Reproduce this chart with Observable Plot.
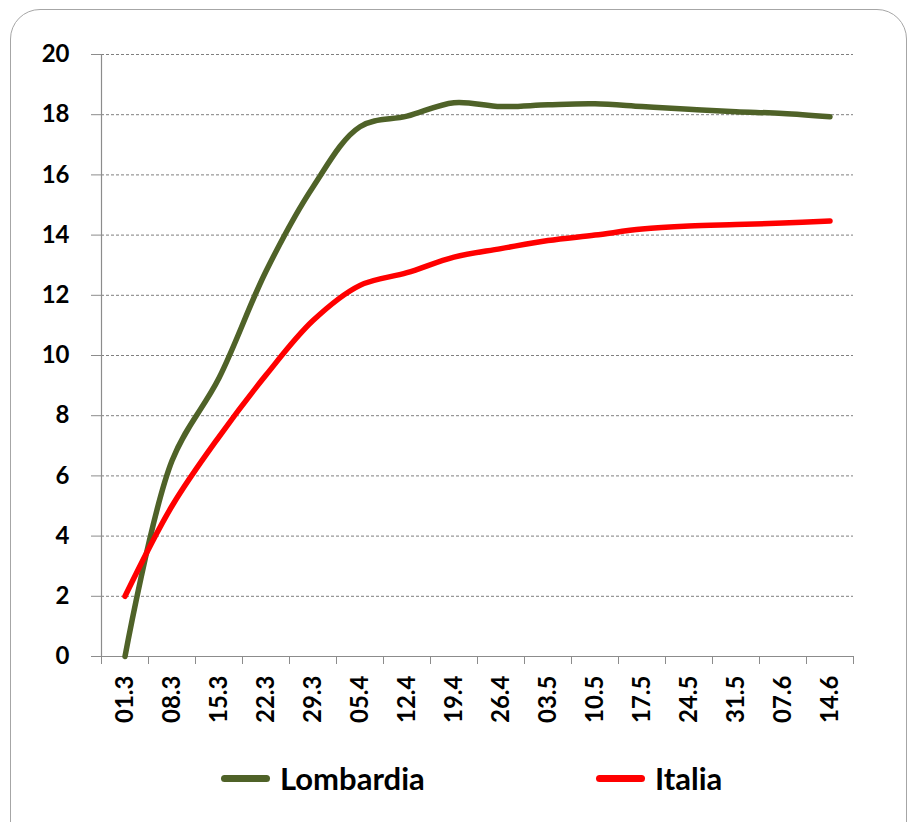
<!DOCTYPE html>
<html><head><meta charset="utf-8">
<script src="https://cdn.jsdelivr.net/npm/d3@7"></script>
<script src="https://cdn.jsdelivr.net/npm/@observablehq/plot@0.6"></script>
<style>
body{margin:0;background:#fff;}
#wrap{position:relative;width:908px;height:822px;overflow:hidden;font-family:Lato,sans-serif;background:#fff;}
#frame{position:absolute;left:10px;top:9px;width:897px;height:850px;border:1.5px solid #a6a6a6;border-radius:30px;box-sizing:border-box;}
#chart{position:absolute;left:0;top:0;}
#legend{position:absolute;top:758px;left:0;width:908px;height:40px;}
.item{position:absolute;top:0;display:flex;align-items:center;height:40px;font-weight:bold;font-size:31px;color:#000;}
.sw{width:49px;height:7px;border-radius:3.5px;margin-right:10px;}
</style></head>
<body>
<div id="wrap">
  <div id="frame"></div>
  <div id="chart"></div>
  <div id="legend"></div>
</div>
<script>
const dates = ["01.3","08.3","15.3","22.3","29.3","05.4","12.4","19.4","26.4","03.5","10.5","17.5","24.5","31.5","07.6","14.6"];
const lombardia = [0, 6.5, 9.25, 12.8, 15.6, 17.6, 17.95, 18.4, 18.27, 18.33, 18.36, 18.27, 18.18, 18.1, 18.04, 17.93];
const italia = [2.0, 5.0, 7.3, 9.35, 11.16, 12.33, 12.75, 13.27, 13.55, 13.82, 14.0, 14.2, 14.3, 14.35, 14.4, 14.47];
const yTicks = [0,2,4,6,8,10,12,14,16,18,20];
const seriesNames = ["Lombardia","Italia"];
const seriesColors = ["#4F6228","#FF0000"];

const lomData = dates.map((d,i)=>({i, v: lombardia[i]}));
const itaData = dates.map((d,i)=>({i, v: italia[i]}));
const idx = d3.range(dates.length);
const bounds = d3.range(dates.length + 1).map(k => k - 0.5);

const chart = Plot.plot({
  width: 908, height: 740,
  marginLeft: 101, marginRight: 55, marginTop: 54, marginBottom: 84,
  style: {fontFamily: "Lato, sans-serif", background: "transparent"},
  x: {type: "linear", domain: [-0.5, dates.length - 0.5], axis: null},
  y: {domain: [0, 20], axis: null},
  marks: [
    Plot.gridY(yTicks.filter(t => t > 0), {stroke: "#7f7f7f", strokeOpacity: 1, strokeDasharray: "3,2", strokeWidth: 1}),
    Plot.axisY(yTicks, {label: null, tickSize: 10, tickPadding: 22, stroke: "#8c8c8c", fill: "#000", fontSize: 24, fontWeight: "bold", tickFormat: d => String(d)}),
    Plot.ruleX([-0.5], {y1: 0, y2: 20, stroke: "#8c8c8c", strokeWidth: 1.2}),
    Plot.ruleY([0], {stroke: "#8c8c8c", strokeWidth: 1.2}),
    Plot.axisX(bounds, {label: null, tickSize: 8, stroke: "#8c8c8c", tickFormat: () => ""}),
    Plot.axisX(idx, {label: null, tickSize: 0, tickPadding: 19, tickRotate: -90, tickFormat: i => dates[i], fill: "#000", fontSize: 24, fontWeight: "bold"}),
    Plot.line(lomData, {x: "i", y: "v", stroke: seriesColors[0], strokeWidth: 5.5, curve: "catmull-rom"}),
    Plot.line(itaData, {x: "i", y: "v", stroke: seriesColors[1], strokeWidth: 5.5, curve: "catmull-rom"})
  ]
});
document.getElementById("chart").appendChild(chart);

const legend = document.getElementById("legend");
const lefts = [221, 596];
seriesNames.forEach((name, k) => {
  const it = document.createElement("div");
  it.className = "item";
  it.style.left = lefts[k] + "px";
  const sw = document.createElement("div");
  sw.className = "sw";
  sw.style.background = seriesColors[k];
  const tx = document.createElement("span");
  tx.textContent = name;
  it.appendChild(sw); it.appendChild(tx);
  legend.appendChild(it);
});
</script>
</body></html>
